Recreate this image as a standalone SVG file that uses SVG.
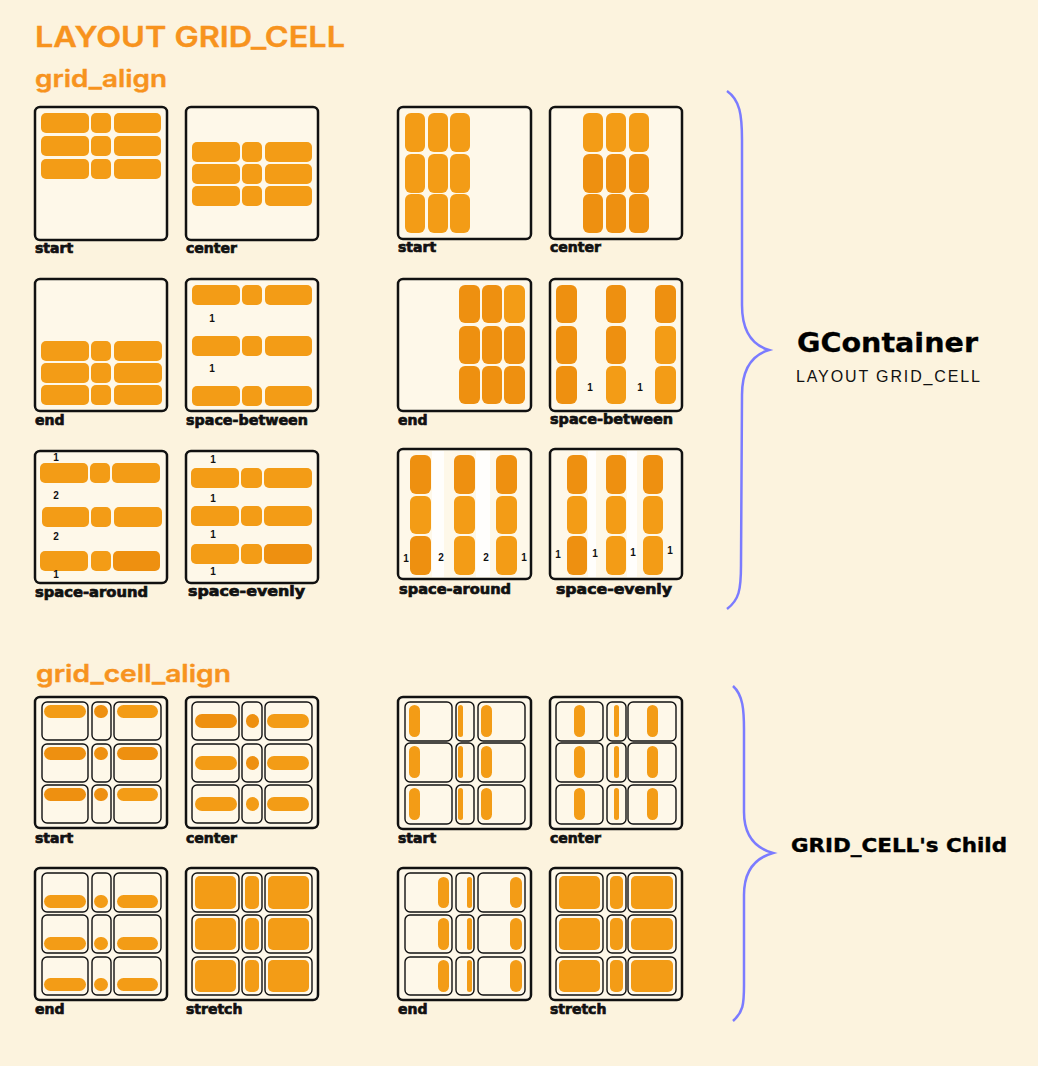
<svg xmlns="http://www.w3.org/2000/svg" width="1038" height="1066" viewBox="0 0 1038 1066">
<style>
.bx{fill:#FEF8E9;stroke:#111;stroke-width:2.5}
.cl{fill:#FEF8E9;stroke:#111;stroke-width:1.4}
.it{fill:#F39C16}
.dk{fill:#EE9010}
.st{fill:#FFFFFF;opacity:0.85}
.lbl{font-family:"DejaVu Sans",sans-serif;font-weight:bold;font-size:14px;fill:#111;stroke:#111;stroke-width:0.7}
.num{font-family:"Liberation Sans",Arial,sans-serif;font-weight:bold;font-size:10px;fill:#111;text-anchor:middle}
.h{font-family:Inter,"Open Sans",sans-serif;font-weight:600;fill:#F7931E;stroke:#F7931E;stroke-width:0.4}
.brace{fill:none;stroke:#7B7BFF;stroke-width:2.5}
</style>
<rect x="0" y="0" width="1038" height="1066" fill="#FCF3DE"/>

<g id="titles">
<text class="h" x="35" y="47" font-size="28" textLength="310" lengthAdjust="spacingAndGlyphs">LAYOUT GRID_CELL</text>
<text class="h" x="35" y="87" font-size="24" textLength="132" lengthAdjust="spacingAndGlyphs">grid_align</text>
<text class="h" x="36" y="682" font-size="24" textLength="195" lengthAdjust="spacingAndGlyphs">grid_cell_align</text>
</g>

<!-- grid_align horizontal -->
<g id="ga-start">
<rect class="bx" x="35" y="107" width="132" height="133" rx="5"/>
<rect class="it" x="41" y="113" width="48" height="20" rx="5"/><rect class="it" x="91" y="113" width="20" height="20" rx="5"/><rect class="it" x="114" y="113" width="47" height="20" rx="5"/>
<rect class="it" x="41" y="136" width="48" height="20" rx="5"/><rect class="it" x="91" y="136" width="20" height="20" rx="5"/><rect class="it" x="114" y="136" width="47" height="20" rx="5"/>
<rect class="it" x="41" y="159" width="48" height="20" rx="5"/><rect class="it" x="91" y="159" width="20" height="20" rx="5"/><rect class="it" x="114" y="159" width="47" height="20" rx="5"/>
<text class="lbl" x="35" y="253">start</text>
</g>
<g id="ga-center">
<rect class="bx" x="186" y="107" width="132" height="133" rx="5"/>
<rect class="it" x="192" y="142" width="48" height="20" rx="5"/><rect class="it" x="242" y="142" width="20" height="20" rx="5"/><rect class="it" x="265" y="142" width="47" height="20" rx="5"/>
<rect class="it" x="192" y="164" width="48" height="20" rx="5"/><rect class="it" x="242" y="164" width="20" height="20" rx="5"/><rect class="it" x="265" y="164" width="47" height="20" rx="5"/>
<rect class="it" x="192" y="186" width="48" height="20" rx="5"/><rect class="it" x="242" y="186" width="20" height="20" rx="5"/><rect class="it" x="265" y="186" width="47" height="20" rx="5"/>
<text class="lbl" x="186" y="253">center</text>
</g>
<g id="ga-end">
<rect class="bx" x="35" y="279" width="132" height="132" rx="5"/>
<rect class="it" x="41" y="341" width="48" height="20" rx="5"/><rect class="it" x="91" y="341" width="20" height="20" rx="5"/><rect class="it" x="114" y="341" width="48" height="20" rx="5"/>
<rect class="it" x="41" y="363" width="48" height="20" rx="5"/><rect class="it" x="91" y="363" width="20" height="20" rx="5"/><rect class="it" x="114" y="363" width="48" height="20" rx="5"/>
<rect class="it" x="41" y="385" width="48" height="20" rx="5"/><rect class="it" x="91" y="385" width="20" height="20" rx="5"/><rect class="it" x="114" y="385" width="48" height="20" rx="5"/>
<text class="lbl" x="35" y="425">end</text>
</g>
<g id="ga-space-between">
<rect class="bx" x="186" y="279" width="132" height="132" rx="5"/>
<rect class="it" x="192" y="285" width="48" height="20" rx="5"/><rect class="it" x="242" y="285" width="20" height="20" rx="5"/><rect class="it" x="265" y="285" width="47" height="20" rx="5"/>
<rect class="it" x="192" y="336" width="48" height="20" rx="5"/><rect class="it" x="242" y="336" width="20" height="20" rx="5"/><rect class="it" x="265" y="336" width="47" height="20" rx="5"/>
<rect class="it" x="192" y="386" width="48" height="20" rx="5"/><rect class="it" x="242" y="386" width="20" height="20" rx="5"/><rect class="it" x="265" y="386" width="47" height="20" rx="5"/>
<text class="num" x="212" y="322">1</text><text class="num" x="212" y="372">1</text>
<text class="lbl" x="186" y="425" textLength="122" lengthAdjust="spacingAndGlyphs">space-between</text>
</g>
<g id="ga-space-around">
<rect class="bx" x="35" y="451" width="132" height="132" rx="5"/>
<rect class="it" x="40" y="463" width="48" height="20" rx="5"/><rect class="it" x="90" y="463" width="20" height="20" rx="5"/><rect class="it" x="112" y="463" width="48" height="20" rx="5"/>
<rect class="it" x="42" y="507" width="47" height="20" rx="5"/><rect class="it" x="91" y="507" width="20" height="20" rx="5"/><rect class="it" x="114" y="507" width="48" height="20" rx="5"/>
<rect class="it" x="40" y="551" width="48" height="20" rx="5"/><rect class="it" x="91" y="551" width="20" height="20" rx="5"/><rect class="dk" x="113" y="551" width="47" height="20" rx="5"/>
<text class="num" x="56" y="461">1</text><text class="num" x="56" y="499">2</text><text class="num" x="56" y="540">2</text><text class="num" x="56" y="578">1</text>
<text class="lbl" x="35" y="597" textLength="113" lengthAdjust="spacingAndGlyphs">space-around</text>
</g>
<g id="ga-space-evenly">
<rect class="bx" x="186" y="451" width="132" height="132" rx="5"/>
<rect class="it" x="191" y="468" width="48" height="20" rx="5"/><rect class="it" x="241" y="468" width="21" height="20" rx="5"/><rect class="it" x="264" y="468" width="48" height="20" rx="5"/>
<rect class="it" x="191" y="506" width="48" height="20" rx="5"/><rect class="it" x="241" y="506" width="21" height="20" rx="5"/><rect class="it" x="264" y="506" width="48" height="20" rx="5"/>
<rect class="it" x="191" y="544" width="48" height="20" rx="5"/><rect class="it" x="241" y="544" width="21" height="20" rx="5"/><rect class="dk" x="264" y="544" width="48" height="20" rx="5"/>
<text class="num" x="213" y="463">1</text><text class="num" x="213" y="502">1</text><text class="num" x="213" y="538">1</text><text class="num" x="213" y="575">1</text>
<text class="lbl" x="188" y="596" textLength="117" lengthAdjust="spacingAndGlyphs">space-evenly</text>
</g>

<!-- grid_align vertical -->
<g id="gav-start">
<rect class="bx" x="398" y="107" width="133" height="132" rx="5"/>
<rect class="it" x="405" y="113" width="20" height="39" rx="6"/><rect class="it" x="428" y="113" width="20" height="39" rx="6"/><rect class="it" x="450" y="113" width="20" height="39" rx="6"/>
<rect class="it" x="405" y="154" width="20" height="39" rx="6"/><rect class="it" x="428" y="154" width="20" height="39" rx="6"/><rect class="it" x="450" y="154" width="20" height="39" rx="6"/>
<rect class="it" x="405" y="194" width="20" height="39" rx="6"/><rect class="it" x="428" y="194" width="20" height="39" rx="6"/><rect class="it" x="450" y="194" width="20" height="39" rx="6"/>
<text class="lbl" x="398" y="252">start</text>
</g>
<g id="gav-center">
<rect class="bx" x="550" y="107" width="132" height="132" rx="5"/>
<rect class="it" x="583" y="113" width="20" height="39" rx="6"/><rect class="it" x="606" y="113" width="20" height="39" rx="6"/><rect class="it" x="629" y="113" width="20" height="39" rx="6"/>
<rect class="dk" x="583" y="154" width="20" height="39" rx="6"/><rect class="dk" x="606" y="154" width="20" height="39" rx="6"/><rect class="dk" x="629" y="154" width="20" height="39" rx="6"/>
<rect class="dk" x="583" y="194" width="20" height="39" rx="6"/><rect class="dk" x="606" y="194" width="20" height="39" rx="6"/><rect class="dk" x="629" y="194" width="20" height="39" rx="6"/>
<text class="lbl" x="550" y="252">center</text>
</g>
<g id="gav-end">
<rect class="bx" x="398" y="279" width="133" height="132" rx="5"/>
<rect class="dk" x="459" y="285" width="21" height="38" rx="6"/><rect class="dk" x="482" y="285" width="20" height="38" rx="6"/><rect class="it" x="504" y="285" width="21" height="38" rx="6"/>
<rect class="dk" x="459" y="326" width="21" height="38" rx="6"/><rect class="dk" x="482" y="326" width="20" height="38" rx="6"/><rect class="dk" x="504" y="326" width="21" height="38" rx="6"/>
<rect class="dk" x="459" y="366" width="21" height="38" rx="6"/><rect class="dk" x="482" y="366" width="20" height="38" rx="6"/><rect class="dk" x="504" y="366" width="21" height="38" rx="6"/>
<text class="lbl" x="398" y="425">end</text>
</g>
<g id="gav-space-between">
<rect class="bx" x="550" y="279" width="132" height="132" rx="5"/>
<rect class="dk" x="556" y="285" width="21" height="38" rx="6"/><rect class="dk" x="606" y="285" width="20" height="38" rx="6"/><rect class="dk" x="655" y="285" width="21" height="38" rx="6"/>
<rect class="dk" x="556" y="326" width="21" height="38" rx="6"/><rect class="dk" x="606" y="326" width="20" height="38" rx="6"/><rect class="it" x="655" y="326" width="21" height="38" rx="6"/>
<rect class="dk" x="556" y="366" width="21" height="38" rx="6"/><rect class="it" x="606" y="366" width="20" height="38" rx="6"/><rect class="it" x="655" y="366" width="21" height="38" rx="6"/>
<text class="num" x="590" y="391">1</text><text class="num" x="640" y="391">1</text>
<text class="lbl" x="550" y="424" textLength="123" lengthAdjust="spacingAndGlyphs">space-between</text>
</g>
<g id="gav-space-around">
<rect class="bx" x="398" y="449" width="133" height="130" rx="5"/>
<rect class="st" x="432" y="451" width="12" height="126"/><rect class="st" x="476" y="451" width="14" height="126"/>
<rect class="dk" x="410" y="455" width="21" height="39" rx="6"/><rect class="dk" x="454" y="455" width="21" height="39" rx="6"/><rect class="dk" x="496" y="455" width="21" height="39" rx="6"/>
<rect class="it" x="410" y="496" width="21" height="38" rx="6"/><rect class="it" x="454" y="496" width="21" height="38" rx="6"/><rect class="it" x="496" y="496" width="21" height="38" rx="6"/>
<rect class="dk" x="410" y="536" width="21" height="39" rx="6"/><rect class="it" x="454" y="536" width="21" height="39" rx="6"/><rect class="it" x="496" y="536" width="21" height="39" rx="6"/>
<text class="num" x="406" y="562">1</text><text class="num" x="441" y="561">2</text><text class="num" x="486" y="561">2</text><text class="num" x="524" y="561">1</text>
<text class="lbl" x="399" y="594" textLength="112" lengthAdjust="spacingAndGlyphs">space-around</text>
</g>
<g id="gav-space-evenly">
<rect class="bx" x="550" y="449" width="132" height="130" rx="5"/>
<rect class="st" x="588" y="451" width="8" height="126" opacity="0.5"/><rect class="st" x="627" y="451" width="10" height="126" opacity="0.5"/>
<rect class="dk" x="567" y="455" width="20" height="39" rx="6"/><rect class="dk" x="606" y="455" width="20" height="39" rx="6"/><rect class="dk" x="643" y="455" width="20" height="39" rx="6"/>
<rect class="it" x="567" y="496" width="20" height="38" rx="6"/><rect class="it" x="606" y="496" width="20" height="38" rx="6"/><rect class="it" x="643" y="496" width="20" height="38" rx="6"/>
<rect class="dk" x="567" y="536" width="20" height="39" rx="6"/><rect class="it" x="606" y="536" width="20" height="39" rx="6"/><rect class="it" x="643" y="536" width="20" height="39" rx="6"/>
<text class="num" x="558" y="558">1</text><text class="num" x="595" y="557">1</text><text class="num" x="633" y="556">1</text><text class="num" x="670" y="554">1</text>
<text class="lbl" x="556" y="594" textLength="116" lengthAdjust="spacingAndGlyphs">space-evenly</text>
</g>

<!-- grid_cell_align horizontal -->
<g id="gca-start">
<rect class="bx" x="35" y="697" width="132" height="131" rx="5"/>
<rect class="cl" x="42" y="702" width="46" height="38" rx="5"/><rect class="cl" x="92" y="702" width="19" height="38" rx="5"/><rect class="cl" x="114" y="702" width="47" height="38" rx="5"/>
<rect class="cl" x="42" y="744" width="46" height="38" rx="5"/><rect class="cl" x="92" y="744" width="19" height="38" rx="5"/><rect class="cl" x="114" y="744" width="47" height="38" rx="5"/>
<rect class="cl" x="42" y="785" width="46" height="38" rx="5"/><rect class="cl" x="92" y="785" width="19" height="38" rx="5"/><rect class="cl" x="114" y="785" width="47" height="38" rx="5"/>
<rect class="it" x="44" y="705" width="42" height="13" rx="6.5"/><rect class="dk" x="94" y="705" width="14" height="13" rx="6.5"/><rect class="it" x="117" y="705" width="41" height="13" rx="6.5"/>
<rect class="dk" x="44" y="747" width="42" height="13" rx="6.5"/><rect class="dk" x="94" y="747" width="14" height="13" rx="6.5"/><rect class="dk" x="117" y="747" width="41" height="13" rx="6.5"/>
<rect class="dk" x="44" y="788" width="42" height="13" rx="6.5"/><rect class="dk" x="94" y="788" width="14" height="13" rx="6.5"/><rect class="it" x="117" y="788" width="41" height="13" rx="6.5"/>
<text class="lbl" x="35" y="843">start</text>
</g>
<g id="gca-center">
<rect class="bx" x="186" y="697" width="132" height="131" rx="5"/>
<rect class="cl" x="192" y="702" width="47" height="38" rx="5"/><rect class="cl" x="242" y="702" width="20" height="38" rx="5"/><rect class="cl" x="265" y="702" width="47" height="38" rx="5"/>
<rect class="cl" x="192" y="744" width="47" height="38" rx="5"/><rect class="cl" x="242" y="744" width="20" height="38" rx="5"/><rect class="cl" x="265" y="744" width="47" height="38" rx="5"/>
<rect class="cl" x="192" y="785" width="47" height="38" rx="5"/><rect class="cl" x="242" y="785" width="20" height="38" rx="5"/><rect class="cl" x="265" y="785" width="47" height="38" rx="5"/>
<rect class="dk" x="195" y="714" width="42" height="14" rx="7"/><rect class="dk" x="246" y="714" width="13" height="14" rx="6.5"/><rect class="it" x="267" y="714" width="42" height="14" rx="7"/>
<rect class="it" x="195" y="756" width="42" height="14" rx="7"/><rect class="dk" x="246" y="756" width="13" height="14" rx="6.5"/><rect class="it" x="267" y="756" width="42" height="14" rx="7"/>
<rect class="it" x="195" y="797" width="42" height="14" rx="7"/><rect class="it" x="246" y="797" width="13" height="14" rx="6.5"/><rect class="it" x="267" y="797" width="42" height="14" rx="7"/>
<text class="lbl" x="186" y="843">center</text>
</g>
<g id="gca-end">
<rect class="bx" x="35" y="868" width="132" height="132" rx="5"/>
<rect class="cl" x="42" y="873" width="46" height="39" rx="5"/><rect class="cl" x="92" y="873" width="19" height="39" rx="5"/><rect class="cl" x="114" y="873" width="47" height="39" rx="5"/>
<rect class="cl" x="42" y="915" width="46" height="38" rx="5"/><rect class="cl" x="92" y="915" width="19" height="38" rx="5"/><rect class="cl" x="114" y="915" width="47" height="38" rx="5"/>
<rect class="cl" x="42" y="957" width="46" height="38" rx="5"/><rect class="cl" x="92" y="957" width="19" height="38" rx="5"/><rect class="cl" x="114" y="957" width="47" height="38" rx="5"/>
<rect class="it" x="44" y="895" width="42" height="13" rx="6.5"/><rect class="it" x="94" y="895" width="14" height="13" rx="6.5"/><rect class="it" x="117" y="895" width="41" height="13" rx="6.5"/>
<rect class="it" x="44" y="937" width="42" height="13" rx="6.5"/><rect class="it" x="94" y="937" width="14" height="13" rx="6.5"/><rect class="it" x="117" y="937" width="41" height="13" rx="6.5"/>
<rect class="it" x="44" y="978" width="42" height="13" rx="6.5"/><rect class="it" x="94" y="978" width="14" height="13" rx="6.5"/><rect class="it" x="117" y="978" width="41" height="13" rx="6.5"/>
<text class="lbl" x="35" y="1014">end</text>
</g>
<g id="gca-stretch">
<rect class="bx" x="186" y="868" width="132" height="132" rx="5"/>
<rect class="cl" x="192" y="873" width="47" height="39" rx="5"/><rect class="cl" x="242" y="873" width="20" height="39" rx="5"/><rect class="cl" x="265" y="873" width="47" height="39" rx="5"/>
<rect class="cl" x="192" y="915" width="47" height="38" rx="5"/><rect class="cl" x="242" y="915" width="20" height="38" rx="5"/><rect class="cl" x="265" y="915" width="47" height="38" rx="5"/>
<rect class="cl" x="192" y="957" width="47" height="38" rx="5"/><rect class="cl" x="242" y="957" width="20" height="38" rx="5"/><rect class="cl" x="265" y="957" width="47" height="38" rx="5"/>
<rect class="it" x="195" y="876" width="41" height="33" rx="5"/><rect class="it" x="245" y="876" width="14" height="33" rx="5"/><rect class="it" x="268" y="876" width="41" height="33" rx="5"/>
<rect class="it" x="195" y="918" width="41" height="32" rx="5"/><rect class="it" x="245" y="918" width="14" height="32" rx="5"/><rect class="it" x="268" y="918" width="41" height="32" rx="5"/>
<rect class="it" x="195" y="960" width="41" height="32" rx="5"/><rect class="it" x="245" y="960" width="14" height="32" rx="5"/><rect class="it" x="268" y="960" width="41" height="32" rx="5"/>
<text class="lbl" x="186" y="1014">stretch</text>
</g>

<!-- grid_cell_align vertical -->
<g id="gcav-start">
<rect class="bx" x="398" y="697" width="133" height="132" rx="5"/>
<rect class="cl" x="405" y="702" width="47" height="39" rx="5"/><rect class="cl" x="456" y="702" width="18" height="39" rx="5"/><rect class="cl" x="478" y="702" width="47" height="39" rx="5"/>
<rect class="cl" x="405" y="743" width="47" height="39" rx="5"/><rect class="cl" x="456" y="743" width="18" height="39" rx="5"/><rect class="cl" x="478" y="743" width="47" height="39" rx="5"/>
<rect class="cl" x="405" y="785" width="47" height="39" rx="5"/><rect class="cl" x="456" y="785" width="18" height="39" rx="5"/><rect class="cl" x="478" y="785" width="47" height="39" rx="5"/>
<rect class="it" x="409" y="705" width="11" height="32" rx="5.5"/><rect class="it" x="458" y="705" width="5" height="32" rx="2.5"/><rect class="it" x="481" y="705" width="11" height="32" rx="5.5"/>
<rect class="it" x="409" y="746" width="11" height="32" rx="5.5"/><rect class="it" x="458" y="746" width="5" height="32" rx="2.5"/><rect class="it" x="481" y="746" width="11" height="32" rx="5.5"/>
<rect class="it" x="409" y="788" width="11" height="32" rx="5.5"/><rect class="it" x="458" y="788" width="5" height="32" rx="2.5"/><rect class="it" x="481" y="788" width="11" height="32" rx="5.5"/>
<text class="lbl" x="398" y="843">start</text>
</g>
<g id="gcav-center">
<rect class="bx" x="550" y="697" width="132" height="132" rx="5"/>
<rect class="cl" x="556" y="702" width="47" height="39" rx="5"/><rect class="cl" x="607" y="702" width="19" height="39" rx="5"/><rect class="cl" x="628" y="702" width="48" height="39" rx="5"/>
<rect class="cl" x="556" y="743" width="47" height="39" rx="5"/><rect class="cl" x="607" y="743" width="19" height="39" rx="5"/><rect class="cl" x="628" y="743" width="48" height="39" rx="5"/>
<rect class="cl" x="556" y="785" width="47" height="39" rx="5"/><rect class="cl" x="607" y="785" width="19" height="39" rx="5"/><rect class="cl" x="628" y="785" width="48" height="39" rx="5"/>
<rect class="it" x="574" y="705" width="11" height="32" rx="5.5"/><rect class="it" x="614" y="705" width="5" height="32" rx="2.5"/><rect class="it" x="647" y="705" width="11" height="32" rx="5.5"/>
<rect class="it" x="574" y="746" width="11" height="32" rx="5.5"/><rect class="it" x="614" y="746" width="5" height="32" rx="2.5"/><rect class="it" x="647" y="746" width="11" height="32" rx="5.5"/>
<rect class="it" x="574" y="788" width="11" height="32" rx="5.5"/><rect class="it" x="614" y="788" width="5" height="32" rx="2.5"/><rect class="it" x="647" y="788" width="11" height="32" rx="5.5"/>
<text class="lbl" x="550" y="843">center</text>
</g>
<g id="gcav-end">
<rect class="bx" x="398" y="868" width="133" height="132" rx="5"/>
<rect class="cl" x="405" y="873" width="47" height="39" rx="5"/><rect class="cl" x="456" y="873" width="18" height="39" rx="5"/><rect class="cl" x="478" y="873" width="47" height="39" rx="5"/>
<rect class="cl" x="405" y="915" width="47" height="38" rx="5"/><rect class="cl" x="456" y="915" width="18" height="38" rx="5"/><rect class="cl" x="478" y="915" width="47" height="38" rx="5"/>
<rect class="cl" x="405" y="957" width="47" height="38" rx="5"/><rect class="cl" x="456" y="957" width="18" height="38" rx="5"/><rect class="cl" x="478" y="957" width="47" height="38" rx="5"/>
<rect class="it" x="438" y="877" width="11" height="31" rx="5.5"/><rect class="it" x="467" y="877" width="5" height="31" rx="2.5"/><rect class="it" x="510" y="877" width="12" height="31" rx="6"/>
<rect class="it" x="438" y="918" width="11" height="32" rx="5.5"/><rect class="it" x="467" y="918" width="5" height="32" rx="2.5"/><rect class="it" x="510" y="918" width="12" height="32" rx="6"/>
<rect class="it" x="438" y="960" width="11" height="32" rx="5.5"/><rect class="it" x="467" y="960" width="5" height="32" rx="2.5"/><rect class="it" x="510" y="960" width="12" height="32" rx="6"/>
<text class="lbl" x="398" y="1014">end</text>
</g>
<g id="gcav-stretch">
<rect class="bx" x="550" y="868" width="132" height="132" rx="5"/>
<rect class="cl" x="556" y="873" width="47" height="39" rx="5"/><rect class="cl" x="607" y="873" width="19" height="39" rx="5"/><rect class="cl" x="628" y="873" width="48" height="39" rx="5"/>
<rect class="cl" x="556" y="915" width="47" height="38" rx="5"/><rect class="cl" x="607" y="915" width="19" height="38" rx="5"/><rect class="cl" x="628" y="915" width="48" height="38" rx="5"/>
<rect class="cl" x="556" y="957" width="47" height="38" rx="5"/><rect class="cl" x="607" y="957" width="19" height="38" rx="5"/><rect class="cl" x="628" y="957" width="48" height="38" rx="5"/>
<rect class="it" x="559" y="876" width="41" height="33" rx="5"/><rect class="it" x="610" y="876" width="13" height="33" rx="5"/><rect class="it" x="631" y="876" width="42" height="33" rx="5"/>
<rect class="it" x="559" y="918" width="41" height="32" rx="5"/><rect class="it" x="610" y="918" width="13" height="32" rx="5"/><rect class="it" x="631" y="918" width="42" height="32" rx="5"/>
<rect class="it" x="559" y="960" width="41" height="32" rx="5"/><rect class="it" x="610" y="960" width="13" height="32" rx="5"/><rect class="it" x="631" y="960" width="42" height="32" rx="5"/>
<text class="lbl" x="550" y="1014">stretch</text>
</g>

<g id="connectors">
<path class="brace" d="M727,91 C740,100 742,115 742,140 L742,305 C742,330 752,345 769,350 C752,355 742,370 742,395 L741,565 C741,590 739,600 727,609"/>
<path class="brace" d="M733,686 C743,695 744,710 744,730 L744,812 C744,835 755,848 773,853 C755,858 744,870 744,895 L744,985 C744,1005 743,1012 733,1021"/>
</g>

<g id="gcontainer-label">
<text x="797" y="352" font-family="DejaVu Sans,sans-serif" font-weight="bold" font-size="27" fill="#000" stroke="#000" stroke-width="0.3" textLength="181" lengthAdjust="spacingAndGlyphs">GContainer</text>
<text x="796" y="382" font-family="Liberation Sans,Arial,sans-serif" font-size="16" fill="#111" textLength="184" lengthAdjust="spacing">LAYOUT GRID_CELL</text>
</g>
<g id="child-label">
<text x="791" y="852" font-family="DejaVu Sans,sans-serif" font-weight="bold" font-size="19.5" fill="#000" stroke="#000" stroke-width="0.4" textLength="216" lengthAdjust="spacingAndGlyphs">GRID_CELL's Child</text>
</g>
</svg>
